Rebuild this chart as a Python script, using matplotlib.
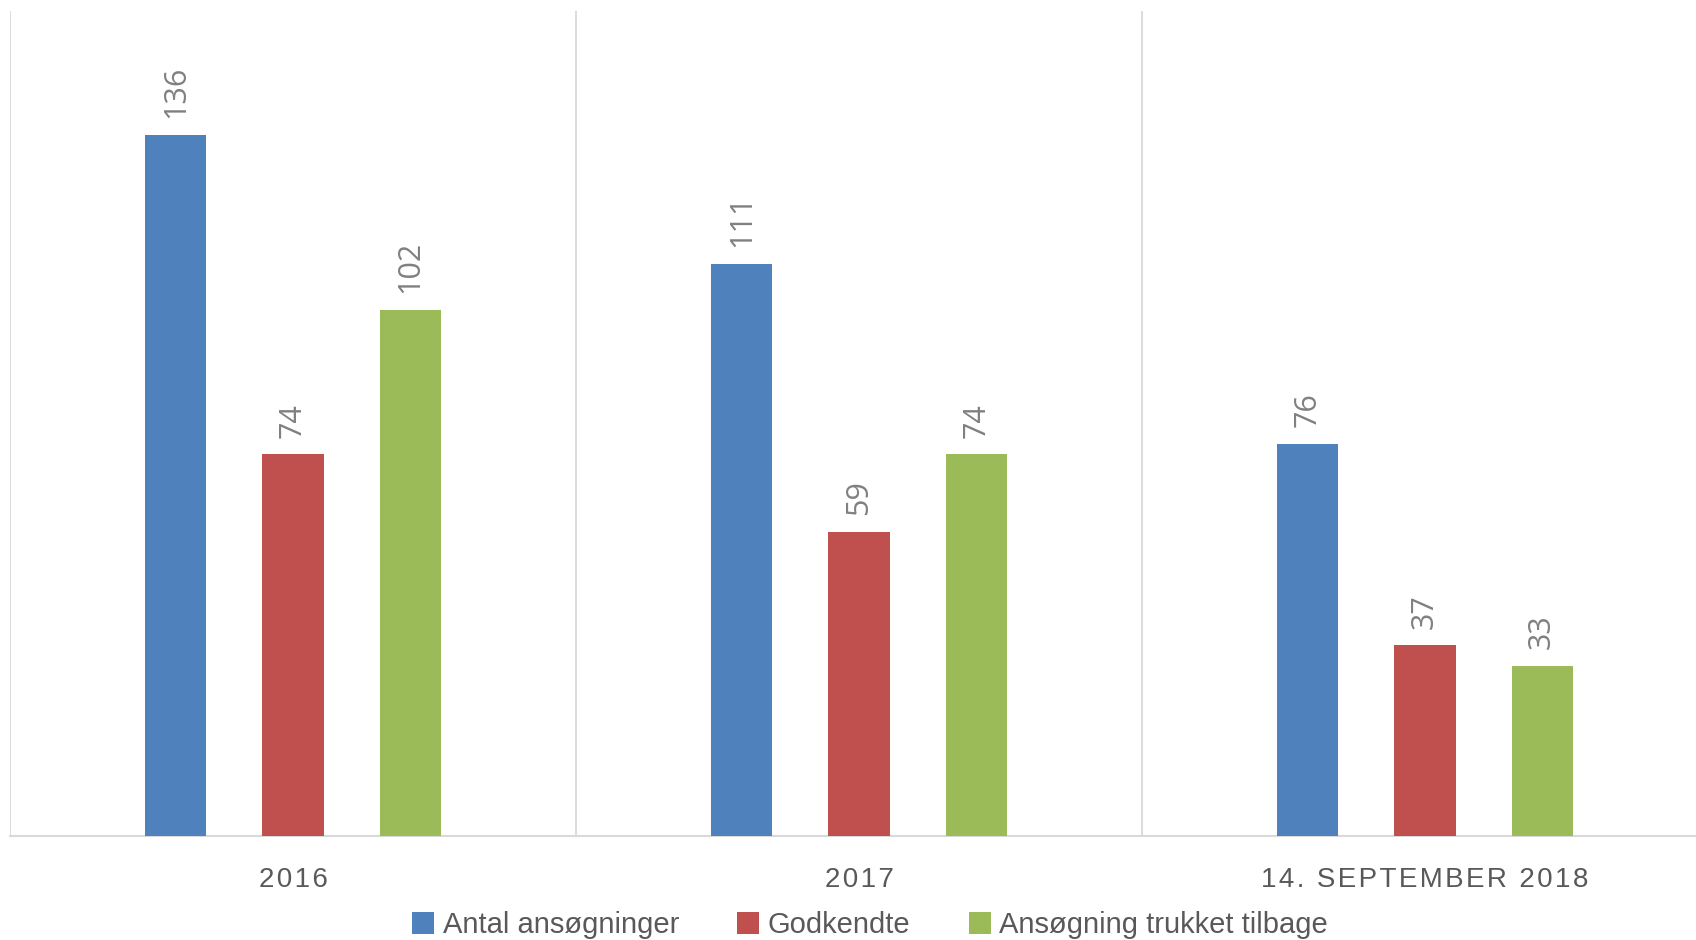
import matplotlib
matplotlib.use("Agg")
import matplotlib.pyplot as plt
from matplotlib.patches import Patch
from matplotlib import font_manager
import numpy as np

categories = ["2016", "2017", "14. SEPTEMBER 2018"]
series_names = ["Antal ansøgninger", "Godkendte", "Ansøgning trukket tilbage"]
antal = [136, 111, 76]
godkendte = [74, 59, 37]
trukket = [102, 74, 33]

colors = ["#4F81BD", "#C0504D", "#9BBB59"]
grid_col = "#D9D9D9"
label_col = "#808080"
text_col = "#595959"

names = {f.name for f in font_manager.fontManager.ttflist}
narrow = "Liberation Sans Narrow" if "Liberation Sans Narrow" in names else "Liberation Sans"

fig = plt.figure(figsize=(16.96, 9.4), dpi=100)
ax = fig.add_axes([10 / 1696, 104 / 940, 1698 / 1696, 825 / 940])

x = np.arange(len(categories))
offset = 0.207
width = 0.108
for i, (vals, name, col) in enumerate(zip([antal, godkendte, trukket], series_names, colors)):
    xs = x + (i - 1) * offset
    ax.bar(xs, vals, width=width, color=col, label=name, zorder=3)
    for xi, v in zip(xs, vals):
        ax.annotate(str(v), (xi, v), xytext=(0, 12), textcoords="offset points",
                    rotation=90, ha="center", va="bottom", fontsize=22,
                    color=label_col, family="Open Sans")

ax.set_xlim(-0.5, 2.5)
ax.set_ylim(0, 160)
for sep in [-0.5, 0.5, 1.5]:
    ax.axvline(sep, color=grid_col, linewidth=1.3, zorder=1)

for s in ["top", "right", "left"]:
    ax.spines[s].set_visible(False)
ax.spines["bottom"].set_color(grid_col)
ax.spines["bottom"].set_linewidth(1.5)
ax.set_yticks([])

# wide letter spacing like the original
spaced = ["\u200a".join(list(c)) for c in categories]
ax.set_xticks(x)
ax.set_xticklabels(spaced, fontsize=20, color=text_col, family=narrow)
ax.tick_params(axis="x", length=0, pad=22.5)

handles = [Patch(facecolor=c, edgecolor="none") for c in colors]
fig.legend(handles, series_names, loc="center", bbox_to_anchor=(0.513, 15 / 940),
           ncol=3, frameon=False, prop={"family": narrow, "size": 21},
           labelcolor=text_col, handlelength=0.75, handleheight=0.75,
           handletextpad=0.3, columnspacing=2.0)

fig.savefig("out.png", dpi=100)
